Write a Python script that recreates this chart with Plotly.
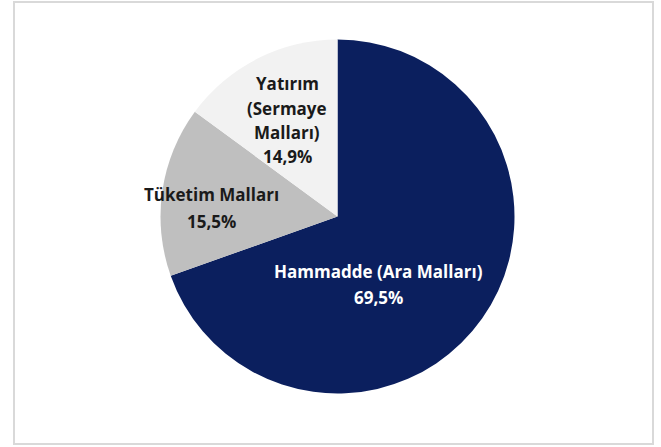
import plotly.graph_objects as go

categories = ["Hammadde (Ara Malları)", "Tüketim Malları", "Yatırım (Sermaye Malları)"]
label_lines = [["Hammadde (Ara Malları)", "69,5%"],
               ["Tüketim Malları", "15,5%"],
               ["Yatırım", "(Sermaye", "Malları)", "14,9%"]]
values = [69.5, 15.5, 14.9]
colors = ["#0B1F5E", "#BFBFBF", "#F2F2F2"]
text_colors = ["#FFFFFF", "#1A1A1A", "#1A1A1A"]

W, H = 661, 447
cx, cy, r = 337.5, 216.5, 177.0

fig = go.Figure(go.Pie(
    labels=categories, values=values, sort=False, direction="clockwise", rotation=0,
    marker=dict(colors=colors, line=dict(width=0)),
    textinfo="none", hoverinfo="label+percent", showlegend=False,
    domain=dict(x=[(cx - r) / W, (cx + r) / W], y=[(H - cy - r) / H, (H - cy + r) / H]),
))

# label line centres in pixels (x, first line y, line step)
label_pos = [(378, 271, 26), (211, 195, 27), (287, 84, 24.3)]
for lines, col, (px, py, step) in zip(label_lines, text_colors, label_pos):
    for i, ln in enumerate(lines):
        fig.add_annotation(x=px / W, y=1 - (py + i * step) / H, xref="paper", yref="paper",
                           text=ln, showarrow=False, xanchor="center", yanchor="middle",
                           font=dict(family="Open Sans", size=17, color=col, weight="bold"))

fig.add_shape(type="rect", xref="paper", yref="paper",
              x0=14 / W, x1=653 / W, y0=(H - 444) / H, y1=(H - 2) / H,
              line=dict(color="#D9D9D9", width=2), fillcolor="rgba(0,0,0,0)")

fig.update_layout(width=W, height=H, margin=dict(l=0, r=0, t=0, b=0),
                  paper_bgcolor="white", plot_bgcolor="white")
fig.write_html("out.html")
